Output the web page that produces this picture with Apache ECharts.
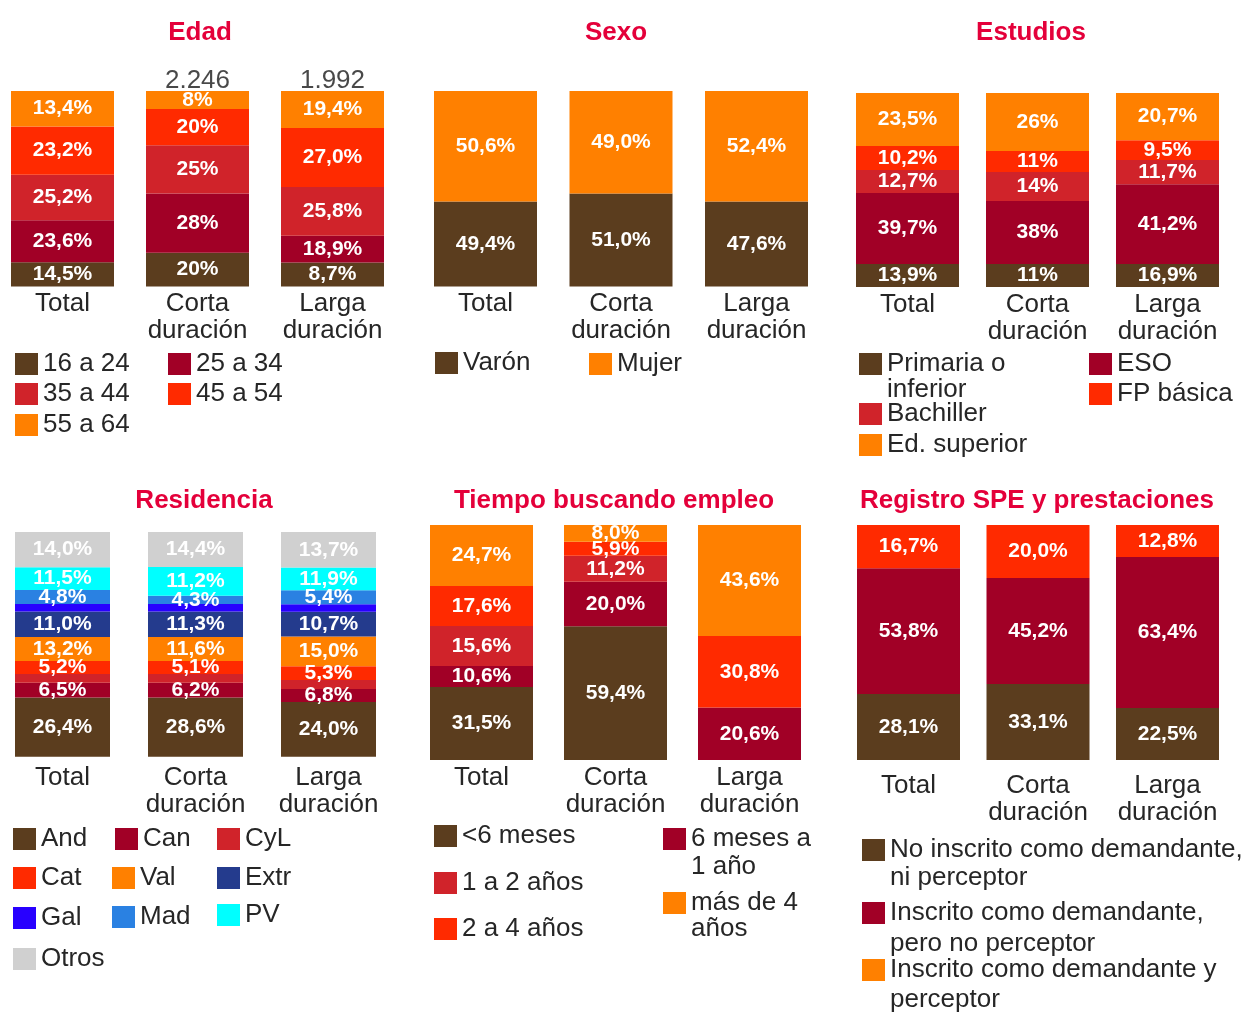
<!DOCTYPE html>
<html>
<head>
<meta charset="utf-8">
<script src="https://cdn.jsdelivr.net/npm/echarts@6/dist/echarts.min.js"></script>
<style>
  html, body { margin: 0; padding: 0; background: #fff; }
  #chart { width: 1252px; height: 1012px; }
</style>
</head>
<body>
<div id="chart"></div>
<script>
const FONT = '"Liberation Sans", Arial, sans-serif';
const TXT = '#262626';
const brown = '#5b3d1e', wine = '#a10026', red = '#d0232a', scarlet = '#ff2a00', orange = '#ff8000';
const navy = '#243b8d', blue = '#2800ff', sky = '#2a81e2', cyan = '#00ffff', grey = '#d0d0d0';

const groups = ['Total', 'Corta\nduración', 'Larga\nduración'];

// Edad  (alturas de barra tal como están dibujadas / porcentajes impresos)
const edadNames = ['16 a 24', '25 a 34', '35 a 44', '45 a 54', '55 a 64'];
const edadBars = [[12.4, 17.3, 12.3], [21.5, 30.3, 13.6], [23.2, 24.7, 25.0], [24.8, 18.5, 30.2], [18.1, 9.2, 18.9]];
const edadPct = [[14.5, 20, 8.7], [23.6, 28, 18.9], [25.2, 25, 25.8], [23.2, 20, 27.0], [13.4, 8, 19.4]];
const edadDec = [1, 0, 1];
const edadN = ['', '2.246', '1.992'];

// Sexo
const sexoNames = ['Varón', 'Mujer'];
const sexoBars = [[43.5, 47.6, 43.5], [56.5, 52.4, 56.5]];
const sexoPct = [[49.4, 51.0, 47.6], [50.6, 49.0, 52.4]];
const sexoDec = [1, 1, 1];

// Estudios
const estNames = ['Primaria o\ninferior', 'ESO', 'Bachiller', 'FP básica', 'Ed. superior'];
const estBars = [[11.9, 11.9, 11.9], [36.5, 32.4, 41.1], [11.9, 15.0, 12.4], [12.4, 10.8, 10.3], [27.3, 29.9, 24.3]];
const estPct = [[13.9, 11, 16.9], [39.7, 38, 41.2], [12.7, 14, 11.7], [10.2, 11, 9.5], [23.5, 26, 20.7]];
const estDec = [1, 0, 1];

// Residencia
const resNames = ['And', 'Can', 'CyL', 'Cat', 'Val', 'Extr', 'Gal', 'Mad', 'PV', 'Otros'];
const resBars = [[26.4, 26.4, 24.3], [6.5, 6.5, 5.8], [3.9, 3.9, 4.0], [5.8, 5.8, 6.2], [10.7, 10.7, 13.2],
  [11.3, 11.3, 11.0], [3.4, 3.4, 3.4], [6.2, 3.6, 6.2], [10.1, 12.8, 10.1], [15.7, 15.6, 15.8]];
const resPct = [[26.4, 28.6, 24.0], [6.5, 6.2, 6.8], [null, null, null], [5.2, 5.1, 5.3], [13.2, 11.6, 15.0],
  [11.0, 11.3, 10.7], [null, null, null], [4.8, 4.3, 5.4], [11.5, 11.2, 11.9], [14.0, 14.4, 13.7]];
const resDec = [1, 1, 1];

// Tiempo buscando empleo
const tiempoNames = ['<6 meses', '6 meses a\n1 año', '1 a 2 años', '2 a 4 años', 'más de 4\naños'];
const tiempoBars = [[31.1, 56.9, null], [8.9, 18.9, 22.3], [17.0, 11.1, null], [17.0, 6.0, 30.5], [26.0, 7.1, 47.2]];
const tiempoPct = [[31.5, 59.4, null], [10.6, 20.0, 20.6], [15.6, 11.2, null], [17.6, 5.9, 30.8], [24.7, 8.0, 43.6]];
const tiempoDec = [1, 1, 1];

// Registro SPE y prestaciones
const speNames = ['No inscrito como demandante,\nni perceptor', 'Inscrito como demandante,\npero no perceptor', 'Inscrito como demandante y\nperceptor'];
const speBars = [[28.1, 32.3, 22.1], [53.5, 45.1, 64.3], [18.4, 22.6, 13.6]];
const spePct = [[28.1, 33.1, 22.5], [53.8, 45.2, 63.4], [16.7, 20.0, 12.8]];
const speDec = [1, 1, 1];

// paneles: posición (centro de la 1ª y 3ª barra), colores y leyendas
const panels = [
  { title: 'Edad', tx: 200, ty: 33, x0: 62.5, x2: 332.5, top: 91, height: 195.5, bw: 103, margin: 4,
    names: edadNames, bars: edadBars, pct: edadPct, dec: edadDec,
    colors: [brown, wine, red, scarlet, orange],
    legend: [[15, 364], [168, 364], [15, 394], [168, 394], [15, 425]] },
  { title: 'Sexo', tx: 616, ty: 33, x0: 485.5, x2: 756.5, top: 91, height: 195.5, bw: 103, margin: 4,
    names: sexoNames, bars: sexoBars, pct: sexoPct, dec: sexoDec,
    colors: [brown, orange],
    legend: [[435, 363], [589, 364]] },
  { title: 'Estudios', tx: 1031, ty: 33, x0: 907.5, x2: 1167.5, top: 93, height: 194, bw: 103, margin: 4,
    names: estNames, bars: estBars, pct: estPct, dec: estDec,
    colors: [brown, wine, red, scarlet, orange],
    legend: [[859, 364, 26], [1089, 364], [859, 414], [1089, 394], [859, 445]] },
  { title: 'Residencia', tx: 204, ty: 501, x0: 62.5, x2: 328.5, top: 532, height: 224.7, bw: 95, margin: 8,
    names: resNames, bars: resBars, pct: resPct, dec: resDec,
    colors: [brown, wine, red, scarlet, orange, navy, blue, sky, cyan, grey],
    legend: [[13, 839], [115, 839], [217, 839], [13, 878], [112, 878], [217, 878],
      [13, 918], [112, 917], [217, 915], [13, 959]] },
  { title: 'Tiempo buscando empleo', tx: 614, ty: 501, x0: 481.5, x2: 749.5, top: 525, height: 235, bw: 103, margin: 4.5,
    names: tiempoNames, bars: tiempoBars, pct: tiempoPct, dec: tiempoDec,
    colors: [brown, wine, red, scarlet, orange],
    legend: [[434, 836], [663, 839, 28], [434, 883], [434, 929], [663, 903, 26]] },
  { title: 'Registro SPE y prestaciones', tx: 1037, ty: 501, x0: 908.5, x2: 1167.5, top: 525, height: 235, bw: 103, margin: 12,
    names: speNames, bars: speBars, pct: spePct, dec: speDec,
    colors: [brown, wine, scarlet], legendColors: [brown, wine, orange],
    legend: [[862, 850, 28], [862, 913, 31], [862, 970, 30]] }
];

const fmt = (v, d) => v.toFixed(d).replace('.', ',') + '%';

const title = [], grid = [], xAxis = [], yAxis = [], series = [], legend = [];

panels.forEach((p, i) => {
  title.push({
    text: p.title, left: p.tx, top: p.ty - 15, textAlign: 'center', padding: 0,
    textStyle: { fontFamily: FONT, fontSize: 26, fontWeight: 'bold', color: '#e4003a', lineHeight: 30 }
  });
  grid.push({ left: p.x0, width: p.x2 - p.x0, top: p.top, height: p.height });
  xAxis.push({
    type: 'category', gridIndex: i, data: groups, boundaryGap: false,
    axisLine: { show: false }, axisTick: { show: false }, splitLine: { show: false },
    axisLabel: { interval: 0, margin: p.margin, fontFamily: FONT, fontSize: 26, lineHeight: 27, color: TXT }
  });
  yAxis.push({ type: 'value', gridIndex: i, min: 0, max: 100, show: false });

  p.names.forEach((name, s) => {
    series.push({
      type: 'bar', name, stack: 'p' + i, xAxisIndex: i, yAxisIndex: i,
      barWidth: p.bw, clip: false, data: p.bars[s],
      itemStyle: { color: p.colors[s] },
      label: {
        show: true, position: 'inside', color: '#fff',
        fontFamily: FONT, fontSize: 21, fontWeight: 'bold',
        formatter: q => p.pct[s][q.dataIndex] == null ? '' : fmt(p.pct[s][q.dataIndex], p.dec[q.dataIndex])
      }
    });

    // una leyenda por elemento
    const [lx, ly, lh] = p.legend[s];
    const lineH = lh || 27;
    const multi = name.indexOf('\n') >= 0;
    const nLines = multi ? name.split('\n').length + 1 : 1;
    const item = { name };
    if (p.legendColors) item.itemStyle = { color: p.legendColors[s] };
    legend.push({
      data: [item], left: lx, top: ly - Math.max(11, nLines * lineH / 2),
      padding: 0, icon: 'rect', itemWidth: 23, itemHeight: 22, selectedMode: false,
      formatter: n => multi ? '\n' + n : n,
      textStyle: { fontFamily: FONT, fontSize: 26, color: TXT, lineHeight: lineH }
    });
  });
});

// tamaños de muestra sobre las barras de Edad
series.push({
  type: 'scatter', xAxisIndex: 0, yAxisIndex: 0, symbolSize: 1,
  itemStyle: { color: 'rgba(0,0,0,0)' },
  data: edadN.map(n => n ? 100 : null),
  label: {
    show: true, position: 'top', distance: 0, offset: [0, 3],
    fontFamily: FONT, fontSize: 26, color: '#1a1a1a',
    formatter: q => edadN[q.dataIndex]
  },
  z: 5
});

const chart = echarts.init(document.getElementById('chart'));
chart.setOption({
  animation: false,
  backgroundColor: '#fff',
  title, grid, xAxis, yAxis, legend, series
});
</script>
</body>
</html>
